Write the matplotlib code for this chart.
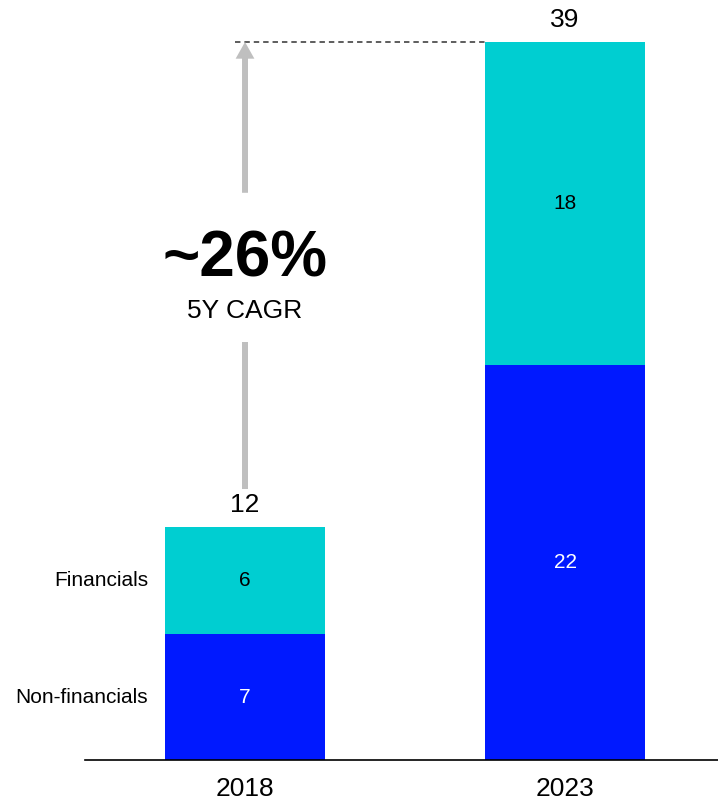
import matplotlib.pyplot as plt
import numpy as np

plt.rcParams['font.family'] = ['Liberation Sans', 'DejaVu Sans']

# datos
years = ['2018', '2023']
non_financials = [7, 22]
financials = [6, 18]
totals = [12, 39]
cagr = '~26%'
cagr_label = '5Y CAGR'
series_names = ['Non-financials', 'Financials']

azul = '#0019FF'
turquesa = '#00CED1'
gris = '#BFBFBF'

fig = plt.figure(figsize=(7.18, 8.02), dpi=100)
ax = fig.add_axes([85/718, 42/802, 633/718, 760/802])

x = np.arange(len(years))
ancho = 0.5
nf = np.array(non_financials)
fi = np.array(financials)

ax.bar(x, nf, width=ancho, color=azul)
ax.bar(x, fi, width=ancho, bottom=nf, color=turquesa)

# valores dentro de las barras
for i in range(len(years)):
    ax.text(x[i], nf[i] / 2, str(nf[i]), ha='center', va='center',
            color='white', fontsize=15)
    ax.text(x[i], nf[i] + fi[i] / 2, str(fi[i]), ha='center', va='center',
            color='black', fontsize=15)
    ax.annotate(str(totals[i]), (x[i], nf[i] + fi[i]), xytext=(0, 7),
                textcoords='offset points', ha='center', va='bottom',
                fontsize=19)

# nombres de las series a la izquierda de la primera barra
ax.text(x[0] - ancho/2 - 0.053, nf[0] / 2, series_names[0],
        ha='right', va='center', fontsize=15)
ax.text(x[0] - ancho/2 - 0.053, nf[0] + fi[0] / 2, series_names[1],
        ha='right', va='center', fontsize=15)

# flecha de crecimiento
top0 = nf[0] + fi[0]
top1 = nf[1] + fi[1]
ax.plot([x[0], x[0]], [top0 + 2.1, top0 + 10.3], color=gris, lw=4.3,
        solid_capstyle='butt')
ax.annotate('', xy=(x[0], top1), xytext=(x[0], top1 - 8.4),
            arrowprops=dict(arrowstyle='simple,head_length=1.2,head_width=1.35,tail_width=0.43',
                            color=gris, lw=0, shrinkA=0, shrinkB=0,
                            mutation_scale=10))
ax.plot([x[0] - 0.03, x[1] - ancho/2], [top1, top1], color='#505050',
        lw=1.3, dashes=(3, 2.2))

ax.text(x[0], top0 + 14.9, cagr, ha='center', va='center',
        fontsize=46, fontweight='bold')
ax.text(x[0], top0 + 12.0, cagr_label, ha='center', va='center',
        fontsize=19)

ax.set_xlim(-0.5, 1.478)
ax.set_ylim(0, 42.34)
ax.set_xticks(x)
ax.set_xticklabels(years, fontsize=19)
ax.tick_params(axis='x', length=0, pad=12)
ax.set_yticks([])
for s in ['top', 'right', 'left']:
    ax.spines[s].set_visible(False)
ax.spines['bottom'].set_linewidth(1.2)

fig.savefig('out.png', dpi=100)
